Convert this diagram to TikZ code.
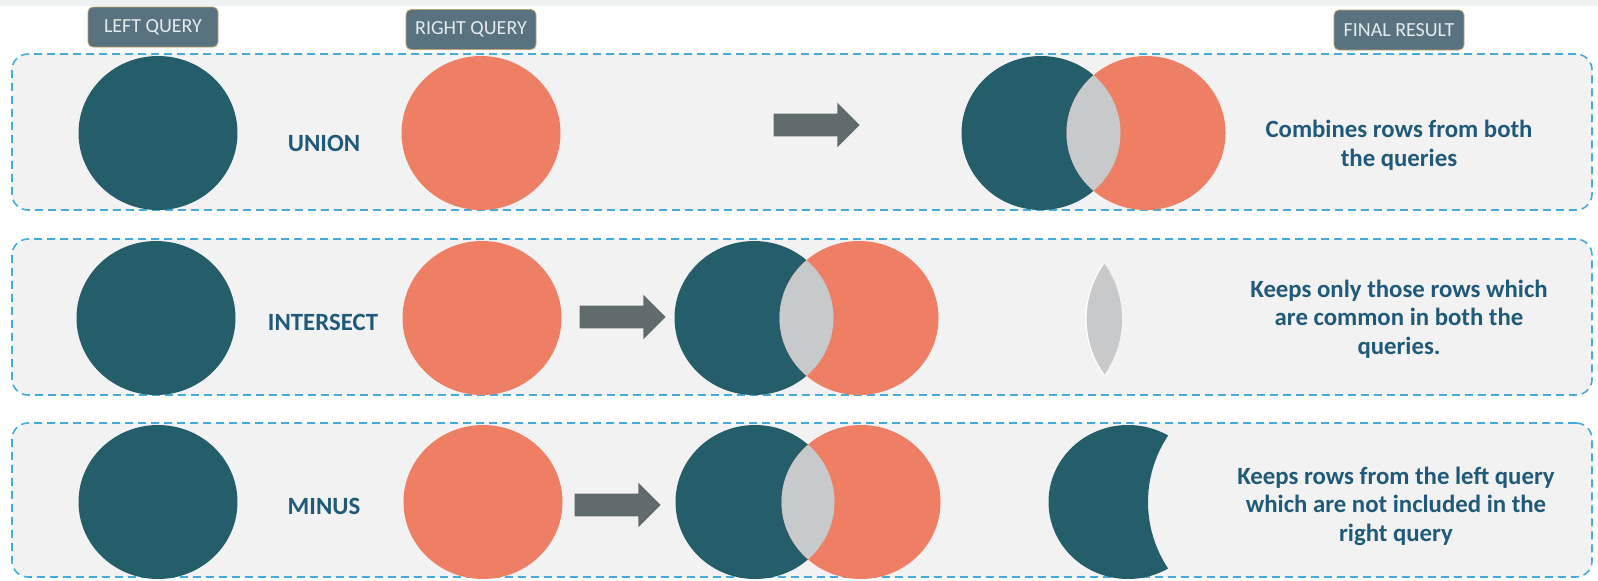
\documentclass[tikz,border=0pt]{standalone}
\usepackage{fontspec}
\setmainfont{Carlito}
\usetikzlibrary{shapes.arrows}
\definecolor{qdark}{HTML}{255E6B}
\definecolor{qorange}{HTML}{EE7F65}
\definecolor{lensgray}{HTML}{C8C9CA}
\definecolor{arrowgray}{HTML}{5F6B6D}
\definecolor{labelfill}{HTML}{58737F}
\definecolor{labeledge}{HTML}{BFA26E}
\definecolor{labeltext}{HTML}{E4EAEC}
\definecolor{qtext}{HTML}{205A7A}
\definecolor{panelfill}{HTML}{F2F2F2}
\definecolor{panelblue}{HTML}{45ABDD}
\definecolor{bandgray}{HTML}{EEF2F3}
\tikzset{
  panel/.style={draw=panelblue, fill=panelfill, dash pattern=on 4pt off 2.5pt, line width=0.8pt, rounded corners=8pt, minimum width=790pt, inner sep=0pt},
  qlabel/.style={fill=labelfill, draw=labeledge, line width=0.4pt, rounded corners=2.5pt, text=labeltext, font=\fontsize{10}{12}\selectfont, minimum width=65pt, minimum height=20pt, inner sep=0pt},
  optext/.style={text=qtext, font=\bfseries\fontsize{12.4}{14}\selectfont},
  desc/.style={text=qtext, font=\bfseries\fontsize{12.4}{14.3}\selectfont, align=center},
  qarrow/.style={single arrow, fill=arrowgray, inner xsep=0pt, inner ysep=5.5pt, minimum height=43pt, minimum width=22pt, single arrow head extend=5.5pt, single arrow head indent=0pt},
  blob/.style={x radius=39.75pt, y radius=38.5pt}
}
\begin{document}
\begin{tikzpicture}[x=0.5pt,y=-0.5pt]
\useasboundingbox (0,0) rectangle (1598,580);
\fill[white] (0,0) rectangle (1598,580);
\fill[bandgray] (0,0) rectangle (1598,6);

% panels
\node[panel, minimum height=78pt] (p1) at (802,132) {};
\node[panel, minimum height=78pt] (p2) at (802,317) {};
\node[panel, minimum height=77pt] (p3) at (802,500) {};

% header labels
\node[qlabel] (lq) at (153,27) {LEFT QUERY};
\node[qlabel] (rq) at (471,29.5) {RIGHT QUERY};
\node[qlabel] (fr) at (1399,30) {FINAL RESULT};

% ---------- Row 1: UNION
\fill[qdark] (158,133) ellipse[blob];
\fill[qorange] (481,133) ellipse[blob];
\node[optext] (union) at (324,143) {UNION};
\node[qarrow] (a1) at (811,125) {};
\fill[qdark] (1041,133) ellipse[blob];
\fill[qorange] (1146,133) ellipse[blob];
\begin{scope}
  \clip (1041,133) ellipse[blob];
  \fill[lensgray] (1146,133) ellipse[blob];
\end{scope}
\node[desc] (d1) at (1399,145) {Combines rows from both\\the queries};

% ---------- Row 2: INTERSECT
\fill[qdark] (156,318) ellipse[blob];
\fill[qorange] (482,318) ellipse[blob];
\node[optext] (inter) at (323,322) {INTERSECT};
\node[qarrow] (a2) at (617,317) {};
\fill[qdark] (754,318) ellipse[blob];
\fill[qorange] (859,318) ellipse[blob];
\begin{scope}
  \clip (754,318) ellipse[blob];
  \fill[lensgray] (859,318) ellipse[blob];
\end{scope}
\begin{scope}
  \clip (1025.9,319) circle[radius=48.05pt];
  \fill[lensgray, draw=white, line width=0.6pt] (1182.1,319) circle[radius=48.05pt];
\end{scope}
\node[desc] (d2) at (1399,319) {Keeps only those rows which\\are common in both the\\queries.};

% ---------- Row 3: MINUS
\fill[qdark] (158,502) ellipse[blob];
\fill[qorange] (483,502) ellipse[blob];
\node[optext] (minus) at (324,506) {MINUS};
\node[qarrow] (a3) at (612,505) {};
\fill[qdark] (755,502) ellipse[blob];
\fill[qorange] (861,502) ellipse[blob];
\begin{scope}
  \clip (755,502) ellipse[blob];
  \fill[lensgray] (861,502) ellipse[blob];
\end{scope}
\begin{scope}[even odd rule]
  \clip (1000,400) rectangle (1340,590) (1268,502) circle[radius=60pt];
  \fill[qdark] (1128,502) ellipse[blob];
\end{scope}
\node[desc] (d3) at (1396,506) {Keeps rows from the left query\\which are not included in the\\right query};
\end{tikzpicture}
\end{document}
